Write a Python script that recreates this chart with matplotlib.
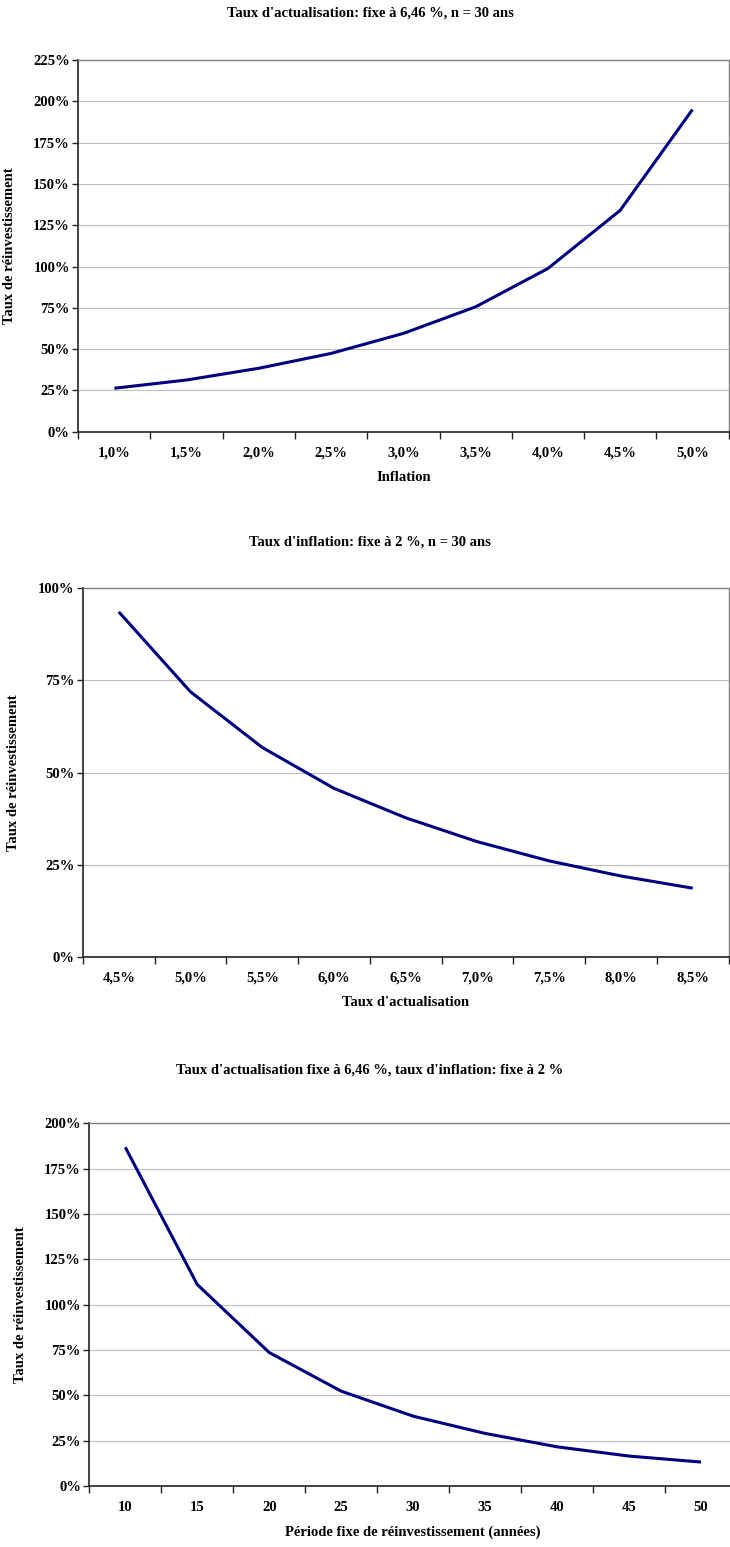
import matplotlib
matplotlib.use("Agg")
import matplotlib.pyplot as plt
from matplotlib.ticker import FixedLocator, FuncFormatter

plt.rcParams['font.family'] = ['Liberation Serif', 'DejaVu Serif']
plt.rcParams['font.weight'] = 'bold'

# --- data -------------------------------------------------------------
inflation_labels = ["1,0%", "1,5%", "2,0%", "2,5%", "3,0%", "3,5%", "4,0%", "4,5%", "5,0%"]
reinv_vs_inflation = [26.3, 31.3, 38.4, 47.4, 59.5, 75.6, 98.8, 134.0, 195.0]

discount_labels = ["4,5%", "5,0%", "5,5%", "6,0%", "6,5%", "7,0%", "7,5%", "8,0%", "8,5%"]
reinv_vs_discount = [93.6, 71.9, 56.8, 45.7, 37.7, 31.2, 26.0, 21.9, 18.6]

period_labels = ["10", "15", "20", "25", "30", "35", "40", "45", "50"]
reinv_vs_period = [186.8, 111.1, 73.6, 52.3, 38.5, 29.0, 21.6, 16.5, 13.2]

titles = [
    "Taux d'actualisation: fixe à 6,46 %, n = 30 ans",
    "Taux d'inflation: fixe à 2 %, n = 30 ans",
    "Taux d'actualisation fixe à 6,46 %, taux d'inflation: fixe à 2 %",
]
xlabels = ["Inflation", "Taux d'actualisation", "Période fixe de réinvestissement (années)"]
ylabel = "Taux de réinvestissement"
ymax = [225, 100, 200]
ystep = [25, 25, 25]

# --- layout (pixels) --------------------------------------------------
W, H = 730, 1547
fig = plt.figure(figsize=(W / 100, H / 100), dpi=100)
fig.patch.set_facecolor("white")

boxes = [  # left, right, top, bottom
    (78.2, 728.6, 60.0, 431.7),
    (82.9, 728.6, 588.3, 956.7),
    (89.3, 737.0, 1123.3, 1486.0),
]
title_y = [13, 542, 1070]
ylabel_x = [10, 14, 21]

FS = 10.5
LINE_COLOR = "#000080"

series = [
    (inflation_labels, reinv_vs_inflation),
    (discount_labels, reinv_vs_discount),
    (period_labels, reinv_vs_period),
]

for i, (labels, values) in enumerate(series):
    l, r, t, b = boxes[i]
    ax = fig.add_axes([l / W, 1 - b / H, (r - l) / W, (b - t) / H])
    x = list(range(len(labels)))
    ax.plot(x, values, color=LINE_COLOR, lw=2.2, solid_joinstyle="miter",
            solid_capstyle="butt", zorder=3)
    ax.set_xlim(-0.5, len(labels) - 0.5)
    ax.set_ylim(0, ymax[i])

    # y axis
    yt = list(range(0, ymax[i] + 1, ystep[i]))
    ax.yaxis.set_major_locator(FixedLocator(yt))
    ax.yaxis.set_major_formatter(FuncFormatter(lambda v, p: f"{int(round(v))}%"))
    ax.tick_params(axis="y", direction="out", length=4, width=1, color="#222222",
                   labelsize=FS, pad=2)
    ax.grid(axis="y", color="#c0c0c0", lw=0.8, zorder=0)

    # x axis: labels at category centres, tick marks at category boundaries
    ax.set_xticks(x)
    ax.set_xticklabels(labels, fontsize=FS, fontweight="bold")
    ax.set_xticks([k - 0.5 for k in range(len(labels) + 1)], minor=True)
    ax.tick_params(axis="x", which="major", length=0, pad=11)
    ax.tick_params(axis="x", which="minor", direction="out", length=5, width=1,
                   color="#222222")
    for lab in ax.get_yticklabels():
        lab.set_fontweight("bold")

    for side in ("left", "bottom"):
        ax.spines[side].set_color("#222222")
        ax.spines[side].set_linewidth(1.2)
    for side in ("top", "right"):
        ax.spines[side].set_color("#808080")
        ax.spines[side].set_linewidth(1.0)

    ax.set_xlabel(xlabels[i], fontsize=FS, fontweight="bold", labelpad=8)
    fig.text(ylabel_x[i] / W, 1 - (t + b) / 2 / H, ylabel, rotation=90,
             ha="center", va="center", fontsize=FS, fontweight="bold")
    fig.text(370 / W, 1 - title_y[i] / H, titles[i], ha="center", va="center",
             fontsize=FS, fontweight="bold")

fig.savefig("out.png", dpi=100, facecolor="white")
